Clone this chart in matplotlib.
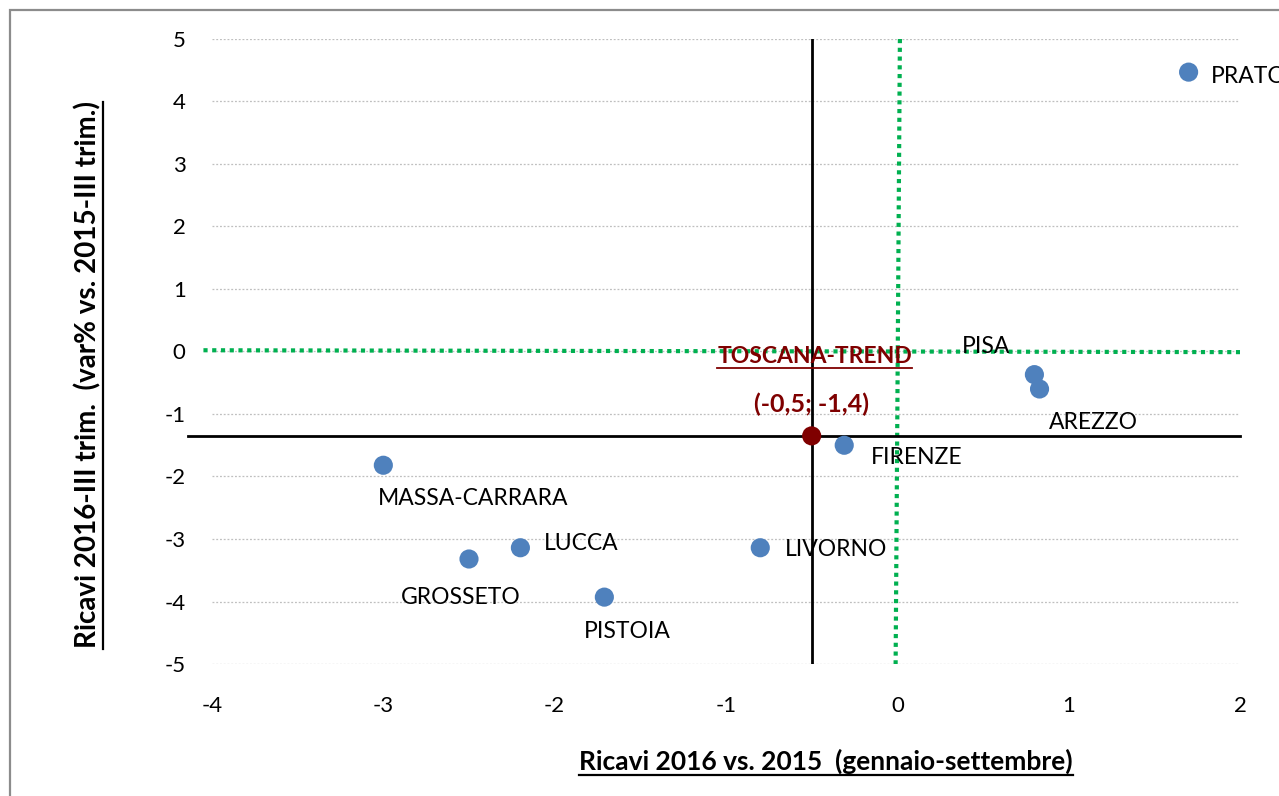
import matplotlib
matplotlib.use("Agg")
import matplotlib.pyplot as plt
from matplotlib.lines import Line2D
from matplotlib.patches import Rectangle

plt.rcParams['font.family'] = ['Lato', 'DejaVu Sans']

# Province data: revenue change Jan-Sep 2016 vs 2015 (x) and Q3 2016 vs Q3 2015 (y)
provinces = ["PRATO", "PISA", "AREZZO", "FIRENZE", "MASSA-CARRARA",
             "LUCCA", "GROSSETO", "LIVORNO", "PISTOIA"]
x_vals = [1.7, 0.8, 0.83, -0.31, -3.0, -2.2, -2.5, -0.8, -1.71]
y_vals = [4.47, -0.37, -0.6, -1.5, -1.82, -3.14, -3.32, -3.14, -3.93]

# Regional reference point
trend_name = "TOSCANA-TREND"
trend_x = -0.5
trend_y = -1.35
trend_label = "(-0,5; -1,4)"

x_ticks = [-4, -3, -2, -1, 0, 1, 2]
y_ticks = [-5, -4, -3, -2, -1, 0, 1, 2, 3, 4, 5]

# Label offsets in points (dx, dy)
label_pos = {
    "PRATO": (16, -3),
    "PISA": (-52, 20),
    "AREZZO": (7, -24),
    "FIRENZE": (19, -9),
    "MASSA-CARRARA": (-4, -24),
    "LUCCA": (17, 3),
    "GROSSETO": (-49, -28),
    "LIVORNO": (18, -1),
    "PISTOIA": (-15, -25),
}

W, H = 1279, 796
fig = plt.figure(figsize=(W / 100, H / 100), dpi=100)
ax = fig.add_axes([212 / W, 1 - 664 / H, (1240 - 212) / W, (664 - 39) / H])

# Outer chart frame
fig.patches.append(Rectangle((10 / W, -0.1), 1.2, 1 - 10 / H + 0.1,
                             transform=fig.transFigure, fill=False,
                             edgecolor="#8c8c8c", linewidth=1.6))

ax.set_xlim(-4, 2)
ax.set_ylim(-5, 5)
ax.set_xticks(x_ticks)
ax.set_yticks(y_ticks)
ax.set_xticklabels([str(v) for v in x_ticks])
ax.set_yticklabels([str(v) for v in y_ticks])
ax.tick_params(length=0, labelsize=16, colors="black")
ax.tick_params(axis="x", pad=23)
ax.tick_params(axis="y", pad=19)
for s in ax.spines.values():
    s.set_visible(False)
ax.grid(axis="y", color="#bfbfbf", linestyle=(0, (1.5, 1.5)), linewidth=0.9)
ax.set_axisbelow(True)

# Zero reference lines (green dotted)
ax.plot([0.015, -0.01], [5, -5], color="#00b050", linestyle=(0, (1, 1.1)),
        linewidth=3, clip_on=False, zorder=2)
ax.plot([-4.05, 2], [0.02, -0.01], color="#00b050", linestyle=(0, (1, 1.1)),
        linewidth=3, clip_on=False, zorder=2)

# Regional average cross lines
ax.plot([trend_x, trend_x], [5, -5], color="black", linewidth=2, zorder=3)
ax.plot([-4.14, 2], [trend_y, trend_y], color="black", linewidth=2,
        clip_on=False, zorder=3)

ax.scatter(x_vals, y_vals, s=190, color="#4f81bd", edgecolors="none", zorder=4,
           clip_on=False)
ax.scatter([trend_x], [trend_y], s=190, color="#7f0000", edgecolors="none", zorder=5)

for name, xv, yv in zip(provinces, x_vals, y_vals):
    dx, dy = label_pos[name]
    ax.annotate(name, (xv, yv), xytext=(dx, dy), textcoords="offset points",
                ha="left", va="center", fontsize=16.5, color="black",
                annotation_clip=False, zorder=6)

t_name = ax.annotate(trend_name, (trend_x, trend_y), xytext=(-68, 57),
                     textcoords="offset points", ha="left", va="center",
                     fontsize=16.5, fontweight="bold", color="#7f0000", zorder=6)
ax.annotate(trend_label, (trend_x, trend_y), xytext=(0, 23),
            textcoords="offset points", ha="center", va="center",
            fontsize=18, fontweight="bold", color="#7f0000", zorder=6)

x_lab = fig.text(826 / W, 1 - 761 / H, "Ricavi 2016 vs. 2015  (gennaio-settembre)",
                 ha="center", va="center", fontsize=19, fontweight="bold")
y_lab = fig.text(88 / W, 1 - 375 / H, "Ricavi 2016-III trim.  (var% vs. 2015-III trim.)",
                 ha="center", va="center", rotation=90, fontsize=20,
                 fontweight="bold")

# Underlines beneath the bold titles
fig.canvas.draw()
r = fig.canvas.get_renderer()
inv = fig.transFigure.inverted()
for t, col, lw in [(t_name, "#7f0000", 1.3), (x_lab, "black", 1.6)]:
    bb = t.get_window_extent(r)
    (x0, y0), (x1, y1) = inv.transform([(bb.x0, bb.y0 - 1), (bb.x1, bb.y0 - 1)])
    fig.lines.append(Line2D([x0, x1], [y0, y1], transform=fig.transFigure,
                            color=col, linewidth=lw))
bb = y_lab.get_window_extent(r)
(x0, y0), (x1, y1) = inv.transform([(bb.x1 + 1, bb.y0), (bb.x1 + 1, bb.y1)])
fig.lines.append(Line2D([x0, x1], [y0, y1], transform=fig.transFigure,
                        color="black", linewidth=1.6))

fig.savefig("out.png", dpi=100)
